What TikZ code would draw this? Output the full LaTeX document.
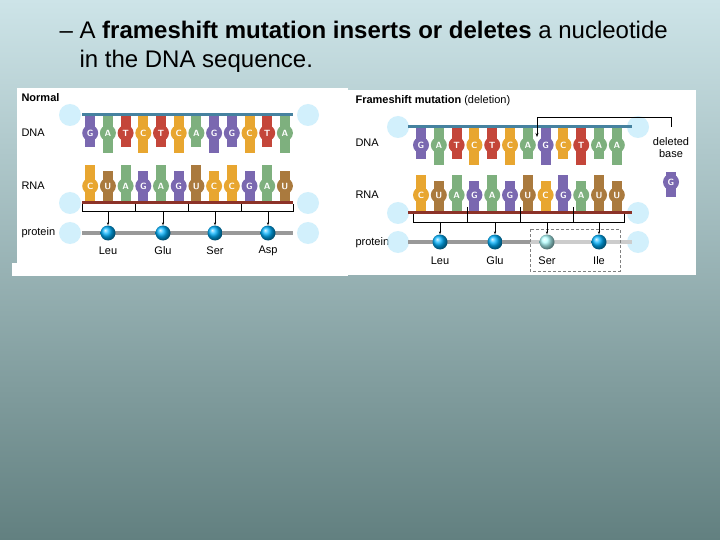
\documentclass[tikz,border=0pt]{standalone}
\usepackage{fontspec}
\setmainfont{Liberation Sans}
\usetikzlibrary{calc}
\usetikzlibrary{arrows.meta}

\definecolor{nucG}{RGB}{122,104,176}
\definecolor{nucA}{RGB}{126,176,126}
\definecolor{nucT}{RGB}{196,70,58}
\definecolor{nucC}{RGB}{232,166,48}
\definecolor{nucU}{RGB}{170,122,62}
\definecolor{dnaline}{RGB}{70,130,160}
\definecolor{rnaline}{RGB}{140,50,40}
\definecolor{bgtop}{RGB}{205,228,232}
\definecolor{bgbot}{RGB}{98,128,128}

\tikzset{
  base/.style={circle, inner sep=0pt, minimum size=16pt, text=white, font=\sffamily\bfseries\fontsize{9}{9}\selectfont},
  glow/.style={circle, fill=cyan!25, opacity=.7, minimum size=22pt},
  lbl/.style={anchor=west, font=\fontsize{11}{12}\selectfont},
  aa/.style={circle, shade, ball color=cyan!70!blue, minimum size=15pt, inner sep=0pt},
  aalbl/.style={font=\fontsize{11}{12}\selectfont}
}

% one nucleotide: x, letter y, stem top y, stem bottom y, letter
\newcommand\nuc[5]{%
  \fill[nuc#5] (#1-5,#3) rectangle (#1+5,#4);
  \node[base, fill=nuc#5] at (#1,#2) {#5};
}

\begin{document}
\begin{tikzpicture}[x=1pt,y=-1pt]
\shade[top color=bgtop, bottom color=bgbot] (0,0) rectangle (720,540);
\useasboundingbox (0,0) rectangle (720,540);

\node[anchor=west, font=\fontsize{24}{29}\selectfont, align=left] (title) at (56,47)
  {-- A \textbf{frameshift mutation inserts or deletes} a nucleotide\\ \hphantom{-- }in the DNA sequence.};

% panels
\fill[white] (17,88) rectangle (348,265);
\fill[white] (12,263) rectangle (348,276);
\fill[white] (348,90) rectangle (696,275);

%% normal
\node[lbl, font=\bfseries\fontsize{11}{12}\selectfont] (nlabel) at (18,98) {Normal};
\node[lbl] (ndna) at (18,133) {DNA};
\node[lbl] (nrna) at (18,186) {RNA};
\node[lbl] (nprot) at (18,233) {protein};
\foreach \y in {115,203,233} {
  \node[glow] at (70,\y) {};
  \node[glow] at (308,\y) {};
}
\foreach \l [count=\i] in {G,A,T,C,T,C,A,G,G,C,T,A}
  \nuc{72.5+17.7*\i}{133}{116}{{117+(mod(\i,2)==0 ? 36 : 30)}}{\l};
\draw[dnaline, line width=3pt] (82,115) -- (293,115);
\foreach \l [count=\i] in {C,U,A,G,A,G,U,C,C,G,A,U}
  \nuc{72.5+17.7*\i}{186}{{201-(mod(\i,2)==0 ? 30 : 36)}}{202}{\l};
\draw[rnaline, line width=3pt] (82,203) -- (293,203);
\draw[gray!80, line width=4pt] (82,233) -- (293,233);
\draw (82,204) -- (82,211) -- (293,211) -- (293,204);
\foreach \x in {135,188,241} \draw (\x,204) -- (\x,211);
\foreach \x/\a in {108/Leu,163/Glu,215/Ser,268/Asp} {
  \node[aa] (n\a) at (\x,233) {};
  \draw[-{Stealth[length=3pt]}] (\x,211) -- (n\a.north);
  \node[aalbl] at (\x,251) {\a};
}

%% frameshift
\node[lbl] (ftitle) at (352,101) {\textbf{Frameshift mutation} (deletion)};
\node[lbl] (fdna) at (352,143) {DNA};
\node[lbl] (frna) at (352,195) {RNA};
\node[lbl] (fprot) at (352,243) {protein};
\foreach \y in {127,213,242} {
  \node[glow] at (398,\y) {};
  \node[glow] at (638,\y) {};
}
\foreach \l [count=\i] in {G,A,T,C,T,C,A,G,C,T,A,A}
  \nuc{403.2+17.8*\i}{145}{128}{{129+(mod(\i,2)==0 ? 36 : 30)}}{\l};
\draw[dnaline, line width=3pt] (408,127) -- (632,127);
\foreach \l [count=\i] in {C,U,A,G,A,G,U,C,G,A,U,U}
  \nuc{403.2+17.8*\i}{195}{{211-(mod(\i,2)==0 ? 30 : 36)}}{212}{\l};
\draw[rnaline, line width=3pt] (408,213) -- (632,213);
\draw[gray!80, line width=4pt] (408,242) -- (530,242);
\draw[gray!40, line width=4pt] (530,242) -- (632,242);
\draw (413,214) -- (413,222) -- (624,222) -- (624,214);
\foreach \x in {467,520,573} \draw[thick] (\x,207) -- (\x,222);
\draw[gray, densely dashed] (530,229) rectangle (620,271);
\foreach \x/\a/\c in {440/Leu/cyan!70!blue,495/Glu/cyan!70!blue,547/Ser/cyan!30,599/Ile/cyan!70!blue} {
  \node[aa, ball color=\c] (f\a) at (\x,242) {};
  \draw[-{Stealth[length=3pt]}] (\x,222) -- (f\a.north);
  \node[aalbl] at (\x,261) {\a};
}
\coordinate (gap) at (537,137);
\draw[thick, -{Stealth[length=4pt]}] (671,127) -- (671,117) -- (537,117) -- (gap);
\node[aalbl, align=center] (del) at (671,148) {deleted\\base};
\nuc{671}{182}{172}{197}{G}
\end{tikzpicture}
\end{document}
